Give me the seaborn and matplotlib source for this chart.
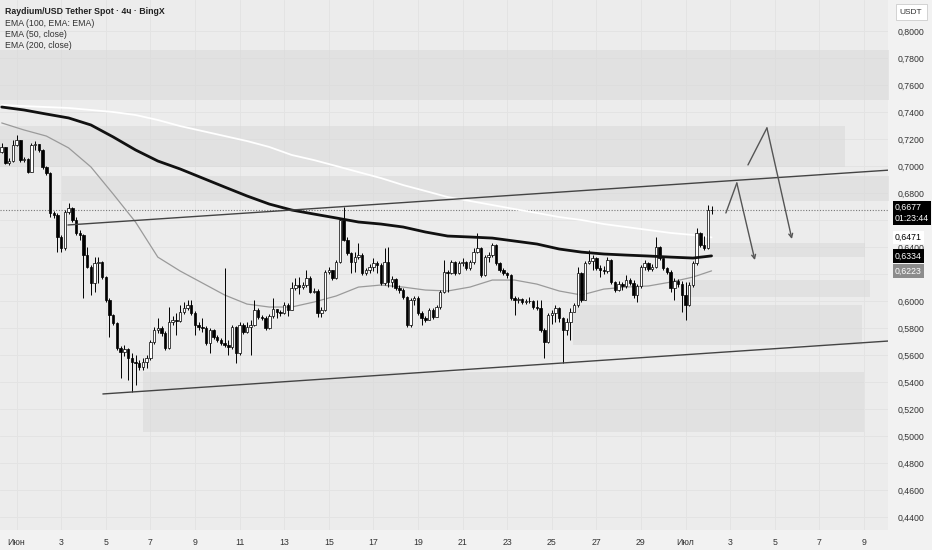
import numpy as np
import pandas as pd
import matplotlib
matplotlib.use("Agg")
import matplotlib.pyplot as plt
import seaborn as sns

# 4h candles, 31 May 08:00 .. 2 Jul 04:00 (one row per day)
first_open = 0.7104
close = [
    0.7141, 0.7022, 0.7037, 0.7156,
    0.7193, 0.7044, 0.7052, 0.6955, 0.7156, 0.7163,
    0.7119, 0.6992, 0.6948, 0.6652, 0.6637, 0.6474,
    0.6392, 0.6659, 0.6689, 0.6600, 0.6504, 0.6489,
    0.6340, 0.6251, 0.6133, 0.6281, 0.6288, 0.6177,
    0.6007, 0.5896, 0.5837, 0.5652, 0.5622, 0.5644,
    0.5577, 0.5547, 0.5540, 0.5510, 0.5547, 0.5577,
    0.5696, 0.5785, 0.5800, 0.5763, 0.5652, 0.5844,
    0.5859, 0.5852, 0.5918, 0.5948, 0.5970, 0.5911,
    0.5822, 0.5807, 0.5800, 0.5689, 0.5785, 0.5733,
    0.5711, 0.5689, 0.5674, 0.5659, 0.5807, 0.5614,
    0.5822, 0.5770, 0.5807, 0.5822, 0.5933, 0.5881,
    0.5874, 0.5800, 0.5889, 0.5940, 0.5918, 0.5911,
    0.5970, 0.5933, 0.6096, 0.6118, 0.6103, 0.6118,
    0.6170, 0.6066, 0.6074, 0.5911, 0.5933, 0.6214,
    0.6229, 0.6170, 0.6288, 0.6600, 0.6452, 0.6355,
    0.6288, 0.6325, 0.6340, 0.6207, 0.6229, 0.6251,
    0.6281, 0.6266, 0.6133, 0.6288, 0.6140, 0.6162,
    0.6096, 0.6081, 0.6029, 0.5822, 0.6007, 0.6022,
    0.5911, 0.5874, 0.5859, 0.5933, 0.5881, 0.5955,
    0.6066, 0.6214, 0.6207, 0.6288, 0.6207, 0.6281,
    0.6288, 0.6244, 0.6288, 0.6362, 0.6392, 0.6192,
    0.6325, 0.6340, 0.6414, 0.6281, 0.6229, 0.6207,
    0.6192, 0.6022, 0.6007, 0.6014, 0.5992, 0.6000,
    0.6000, 0.5955, 0.5948, 0.5785, 0.5696, 0.5896,
    0.5911, 0.5948, 0.5874, 0.5785, 0.5844, 0.5918,
    0.5970, 0.6207, 0.6007, 0.6281, 0.6296, 0.6318,
    0.6244, 0.6229, 0.6222, 0.6303, 0.6140, 0.6081,
    0.6125, 0.6111, 0.6155, 0.6133, 0.6044, 0.6111,
    0.6251, 0.6281, 0.6237, 0.6251, 0.6400, 0.6318,
    0.6244, 0.6214, 0.6096, 0.6148, 0.6125, 0.6044,
    0.5970, 0.6118, 0.6281, 0.6504, 0.6414, 0.6392,
    0.6674, 0.6677,
]
high = [
    0.7171, 0.7134, 0.7060, 0.7193,
    0.7230, 0.7193, 0.7067, 0.7060, 0.7171, 0.7186,
    0.7156, 0.7126, 0.7000, 0.6955, 0.6667, 0.6652,
    0.6489, 0.6674, 0.6726, 0.6696, 0.6622, 0.6526,
    0.6496, 0.6400, 0.6266, 0.6325, 0.6325, 0.6296,
    0.6185, 0.6022, 0.5903, 0.5844, 0.5666, 0.5674,
    0.5652, 0.5614, 0.5600, 0.5562, 0.5577, 0.5600,
    0.5711, 0.5807, 0.5874, 0.5815, 0.5778, 0.5955,
    0.5889, 0.5911, 0.5970, 0.5992, 0.6007, 0.6007,
    0.5926, 0.5844, 0.5874, 0.5815, 0.5800, 0.5792,
    0.5748, 0.5726, 0.6244, 0.5711, 0.5822, 0.5815,
    0.5844, 0.5837, 0.5844, 0.5859, 0.6007, 0.5948,
    0.5896, 0.5889, 0.5903, 0.6022, 0.5940, 0.5933,
    0.5992, 0.5985, 0.6140, 0.6170, 0.6177, 0.6140,
    0.6229, 0.6185, 0.6096, 0.6088, 0.5955, 0.6229,
    0.6251, 0.6229, 0.6303, 0.6615, 0.6696, 0.6474,
    0.6362, 0.6362, 0.6429, 0.6355, 0.6244, 0.6273,
    0.6318, 0.6296, 0.6281, 0.6392, 0.6400, 0.6185,
    0.6170, 0.6118, 0.6096, 0.6037, 0.6022, 0.6037,
    0.6037, 0.5926, 0.5889, 0.5948, 0.5948, 0.5970,
    0.6081, 0.6303, 0.6229, 0.6303, 0.6296, 0.6296,
    0.6318, 0.6296, 0.6303, 0.6392, 0.6504, 0.6400,
    0.6340, 0.6362, 0.6429, 0.6422, 0.6288, 0.6244,
    0.6214, 0.6199, 0.6037, 0.6029, 0.6022, 0.6014,
    0.6029, 0.6007, 0.6007, 0.6007, 0.5800, 0.5911,
    0.5933, 0.5970, 0.5955, 0.5881, 0.5874, 0.5948,
    0.5985, 0.6251, 0.6214, 0.6296, 0.6377, 0.6340,
    0.6325, 0.6266, 0.6259, 0.6325, 0.6310, 0.6148,
    0.6148, 0.6140, 0.6192, 0.6170, 0.6155, 0.6125,
    0.6266, 0.6303, 0.6288, 0.6273, 0.6474, 0.6407,
    0.6318, 0.6251, 0.6229, 0.6170, 0.6162, 0.6148,
    0.6140, 0.6140, 0.6296, 0.6541, 0.6511, 0.6481,
    0.6711, 0.6704,
]
low = [
    0.7097, 0.7015, 0.7007, 0.7029,
    0.7149, 0.7029, 0.7029, 0.6948, 0.6955, 0.7119,
    0.7104, 0.6978, 0.6933, 0.6622, 0.6615, 0.6362,
    0.6362, 0.6377, 0.6644, 0.6585, 0.6489, 0.6452,
    0.6022, 0.6244, 0.6044, 0.6066, 0.6133, 0.6162,
    0.5992, 0.5733, 0.5822, 0.5637, 0.5429, 0.5592,
    0.5414, 0.5325, 0.5377, 0.5488, 0.5488, 0.5503,
    0.5562, 0.5681, 0.5763, 0.5740, 0.5637, 0.5644,
    0.5822, 0.5748, 0.5844, 0.5903, 0.5933, 0.5896,
    0.5748, 0.5785, 0.5770, 0.5674, 0.5614, 0.5718,
    0.5696, 0.5674, 0.5659, 0.5600, 0.5644, 0.5540,
    0.5600, 0.5755, 0.5763, 0.5600, 0.5815, 0.5866,
    0.5859, 0.5785, 0.5792, 0.5874, 0.5874, 0.5889,
    0.5903, 0.5889, 0.5933, 0.6081, 0.6051, 0.6088,
    0.6103, 0.6059, 0.6059, 0.5881, 0.5881, 0.5926,
    0.6199, 0.6155, 0.6162, 0.6281, 0.6444, 0.6340,
    0.6207, 0.6214, 0.6310, 0.6192, 0.6192, 0.6207,
    0.6222, 0.6207, 0.6118, 0.6118, 0.6103, 0.6103,
    0.6081, 0.6059, 0.6014, 0.5807, 0.5807, 0.5970,
    0.5896, 0.5822, 0.5844, 0.5859, 0.5866, 0.5881,
    0.5940, 0.6059, 0.6066, 0.6199, 0.6192, 0.6199,
    0.6259, 0.6229, 0.6229, 0.6273, 0.6355, 0.6177,
    0.6185, 0.6288, 0.6325, 0.6266, 0.6214, 0.6192,
    0.6170, 0.6007, 0.5896, 0.5985, 0.5977, 0.5977,
    0.5985, 0.5940, 0.5933, 0.5770, 0.5577, 0.5689,
    0.5829, 0.5844, 0.5844, 0.5540, 0.5748, 0.5711,
    0.5918, 0.5955, 0.5992, 0.6007, 0.6273, 0.6229,
    0.6229, 0.6177, 0.6199, 0.6207, 0.6125, 0.6066,
    0.6074, 0.6081, 0.6096, 0.6118, 0.6022, 0.5992,
    0.6096, 0.6229, 0.6222, 0.6222, 0.6244, 0.6303,
    0.6229, 0.6199, 0.6066, 0.6007, 0.6103, 0.5918,
    0.5859, 0.5963, 0.6103, 0.6266, 0.6400, 0.6377,
    0.6385, 0.6644,
]

# moving averages, read once a day (every 6th candle) plus the last candle
ema_200 = [0.7437, 0.7415, 0.7385, 0.7356, 0.7304, 0.7215, 0.7119, 0.7037, 0.6978, 0.6911,
           0.6844, 0.6778, 0.6718, 0.6674, 0.6644, 0.6615, 0.6585, 0.6570, 0.6548, 0.6511,
           0.6481, 0.6474, 0.6466, 0.6444, 0.6422, 0.6385, 0.6362, 0.6348, 0.6340, 0.6333,
           0.6325, 0.6318, 0.6334]
ema_100 = [0.7452, 0.7444, 0.7437, 0.7430, 0.7415, 0.7400, 0.7378, 0.7341, 0.7296, 0.7259,
           0.7222, 0.7185, 0.7141, 0.7082, 0.7044, 0.7000, 0.6955, 0.6911, 0.6859, 0.6815,
           0.6770, 0.6741, 0.6711, 0.6681, 0.6652, 0.6622, 0.6600, 0.6570, 0.6548, 0.6526,
           0.6504, 0.6489, 0.6471]
ema_50 = [0.7319, 0.7267, 0.7222, 0.7134, 0.6993, 0.6792, 0.6585, 0.6325, 0.6222, 0.6133,
          0.6044, 0.5977, 0.5955, 0.5955, 0.5992, 0.6037, 0.6103, 0.6118, 0.6103, 0.6081,
          0.6074, 0.6103, 0.6155, 0.6155, 0.6125, 0.6074, 0.6044, 0.6088, 0.6103, 0.6111,
          0.6140, 0.6177, 0.6223]

# grey zones: start/end in days from 1 June, price bottom/top
zone_start = [-0.8, -0.8, 2.04, 31.1, 30.1, 24.95, 5.67]
zone_end = [39.2, 37.15, 39.2, 38.04, 38.27, 37.9, 38.0]
zone_low = [0.7489, 0.6993, 0.6741, 0.6326, 0.6029, 0.5674, 0.5029]
zone_high = [0.7860, 0.7296, 0.6926, 0.6430, 0.6155, 0.5970, 0.5474]

upper_x, upper_y = [2.30, 39.17], [0.6563, 0.6970]
lower_x, lower_y = [3.87, 39.17], [0.5311, 0.5704]
arrow_a_x, arrow_a_y = [31.81, 32.30, 33.11], [0.6652, 0.6874, 0.6303]
arrow_b_x, arrow_b_y = [32.80, 33.65, 34.77], [0.7008, 0.7282, 0.6459]

last_price = 0.6677
date_ticks = [0, 2, 4, 6, 8, 10, 12, 14, 16, 18, 20, 22, 24, 26, 28, 30, 32, 34, 36, 38]
date_labels = ["Июн", "3", "5", "7", "9", "11", "13", "15", "17", "19", "21", "23",
               "25", "27", "29", "Июл", "3", "5", "7", "9"]
price_ticks = [0.44, 0.46, 0.48, 0.50, 0.52, 0.54, 0.56, 0.58, 0.60, 0.62,
               0.64, 0.66, 0.68, 0.70, 0.72, 0.74, 0.76, 0.78, 0.80]
hidden_ticks = [0.62, 0.66]  # covered by the price boxes on the scale

sns.set_theme(style="white")
plt.rcParams["font.family"] = ["Liberation Sans", "DejaVu Sans"]

times = pd.date_range("2024-05-31 08:00", periods=len(close), freq="4h")
x = ((times - pd.Timestamp("2024-06-01")) / pd.Timedelta(days=1)).to_numpy()
c = np.array(close)
o = np.concatenate([[first_open], c[:-1]])
h = np.maximum.reduce([np.array(high), o, c])
l = np.minimum.reduce([np.array(low), o, c])
up = c >= o
x_day = x[::6].tolist() + [x[-1]]

fig = plt.figure(figsize=(9.32, 5.5), dpi=100, facecolor="#f2f2f2")
ax = fig.add_axes([0, 20 / 550, 888 / 932, 530 / 550])
ax.set_facecolor("#ececec")

for x0, x1, lo, hi in zip(zone_start, zone_end, zone_low, zone_high):
    ax.fill_between([x0, x1], lo, hi, color="#d9d9d9", alpha=0.55, lw=0, zorder=1)

ax.axhline(last_price, color="#777777", lw=0.8, ls=(0, (1, 1.5)), zorder=2)

sns.lineplot(x=x_day, y=ema_100, ax=ax, color="white", lw=1.3, zorder=3)
sns.lineplot(x=x_day, y=ema_50, ax=ax, color="#9a9a9a", lw=0.9, zorder=3)

bw = 0.11
ax.vlines(x, l, h, color="black", lw=0.7, zorder=4)
ax.bar(x[up], (c - o)[up], bottom=o[up], width=bw, color="white", edgecolor="black", lw=0.5, zorder=5)
ax.bar(x[~up], (o - c)[~up], bottom=c[~up], width=bw, color="black", edgecolor="black", lw=0.5, zorder=5)

sns.lineplot(x=x_day, y=ema_200, ax=ax, color="#111111", lw=2.0, zorder=6)

ax.plot(upper_x, upper_y, color="#444444", lw=1.0, zorder=6)
ax.plot(lower_x, lower_y, color="#444444", lw=1.0, zorder=6)

for px, py in [(arrow_a_x, arrow_a_y), (arrow_b_x, arrow_b_y)]:
    ax.plot(px[:2], py[:2], color="#555555", lw=1.0, zorder=7)
    ax.annotate("", xy=(px[2], py[2]), xytext=(px[1], py[1]),
                arrowprops=dict(arrowstyle="->", color="#555555", lw=1.0,
                                shrinkA=0, shrinkB=0, mutation_scale=7), zorder=7)

ax.set_xlim(-0.744, 39.08)
ax.set_ylim(0.4303, 0.8230)
ax.set_xticks(date_ticks)
ax.set_xticklabels(date_labels)
ax.set_yticks(price_ticks)
ax.set_yticklabels(["" if p in hidden_ticks else f"{p:.4f}".replace(".", ",") for p in price_ticks])
ax.yaxis.tick_right()
ax.tick_params(axis="both", length=0, labelsize=6.3, colors="#333333")
ax.tick_params(axis="y", pad=7)
ax.tick_params(axis="x", pad=6)
ax.grid(True, color="#e3e3e3", lw=0.7)
ax.set_axisbelow(True)
for s in ax.spines.values():
    s.set_visible(False)
ax.set_xlabel("")
ax.set_ylabel("")

ytr = ax.get_yaxis_transform()
lab = dict(transform=ytr, ha="left", fontsize=6.3, zorder=10, clip_on=False)
ax.text(1.008, last_price + 0.0050, "0,6677\n01:23:44", va="top", color="white", linespacing=1.25,
        bbox=dict(boxstyle="square,pad=0.25", fc="black", ec="none"), **lab)
ax.text(1.008, ema_100[-1], "0,6471", va="center", color="black",
        bbox=dict(boxstyle="square,pad=0.25", fc="white", ec="none"), **lab)
ax.text(1.008, ema_200[-1], "0,6334", va="center", color="white",
        bbox=dict(boxstyle="square,pad=0.25", fc="black", ec="none"), **lab)
ax.text(1.008, ema_50[-1], "0,6223", va="center", color="white",
        bbox=dict(boxstyle="square,pad=0.25", fc="#8c8c8c", ec="none"), **lab)

fig.text(0.9775, 1 - 12 / 550, "USDT", ha="center", va="center", fontsize=6, color="#333333",
         bbox=dict(boxstyle="square,pad=0.5", fc="white", ec="#cccccc", lw=0.6))

fig.text(5 / 932, 1 - 11 / 550, "Raydium/USD Tether Spot · 4ч · BingX", fontsize=6.3,
         color="#222222", va="center", fontweight="semibold")
for k, name in enumerate(["EMA (100, EMA: EMA)", "EMA (50, close)", "EMA (200, close)"]):
    fig.text(5 / 932, 1 - (23 + 11.5 * k) / 550, name, fontsize=6.3, color="#333333", va="center")

fig.savefig("out.png", dpi=100, facecolor=fig.get_facecolor())
